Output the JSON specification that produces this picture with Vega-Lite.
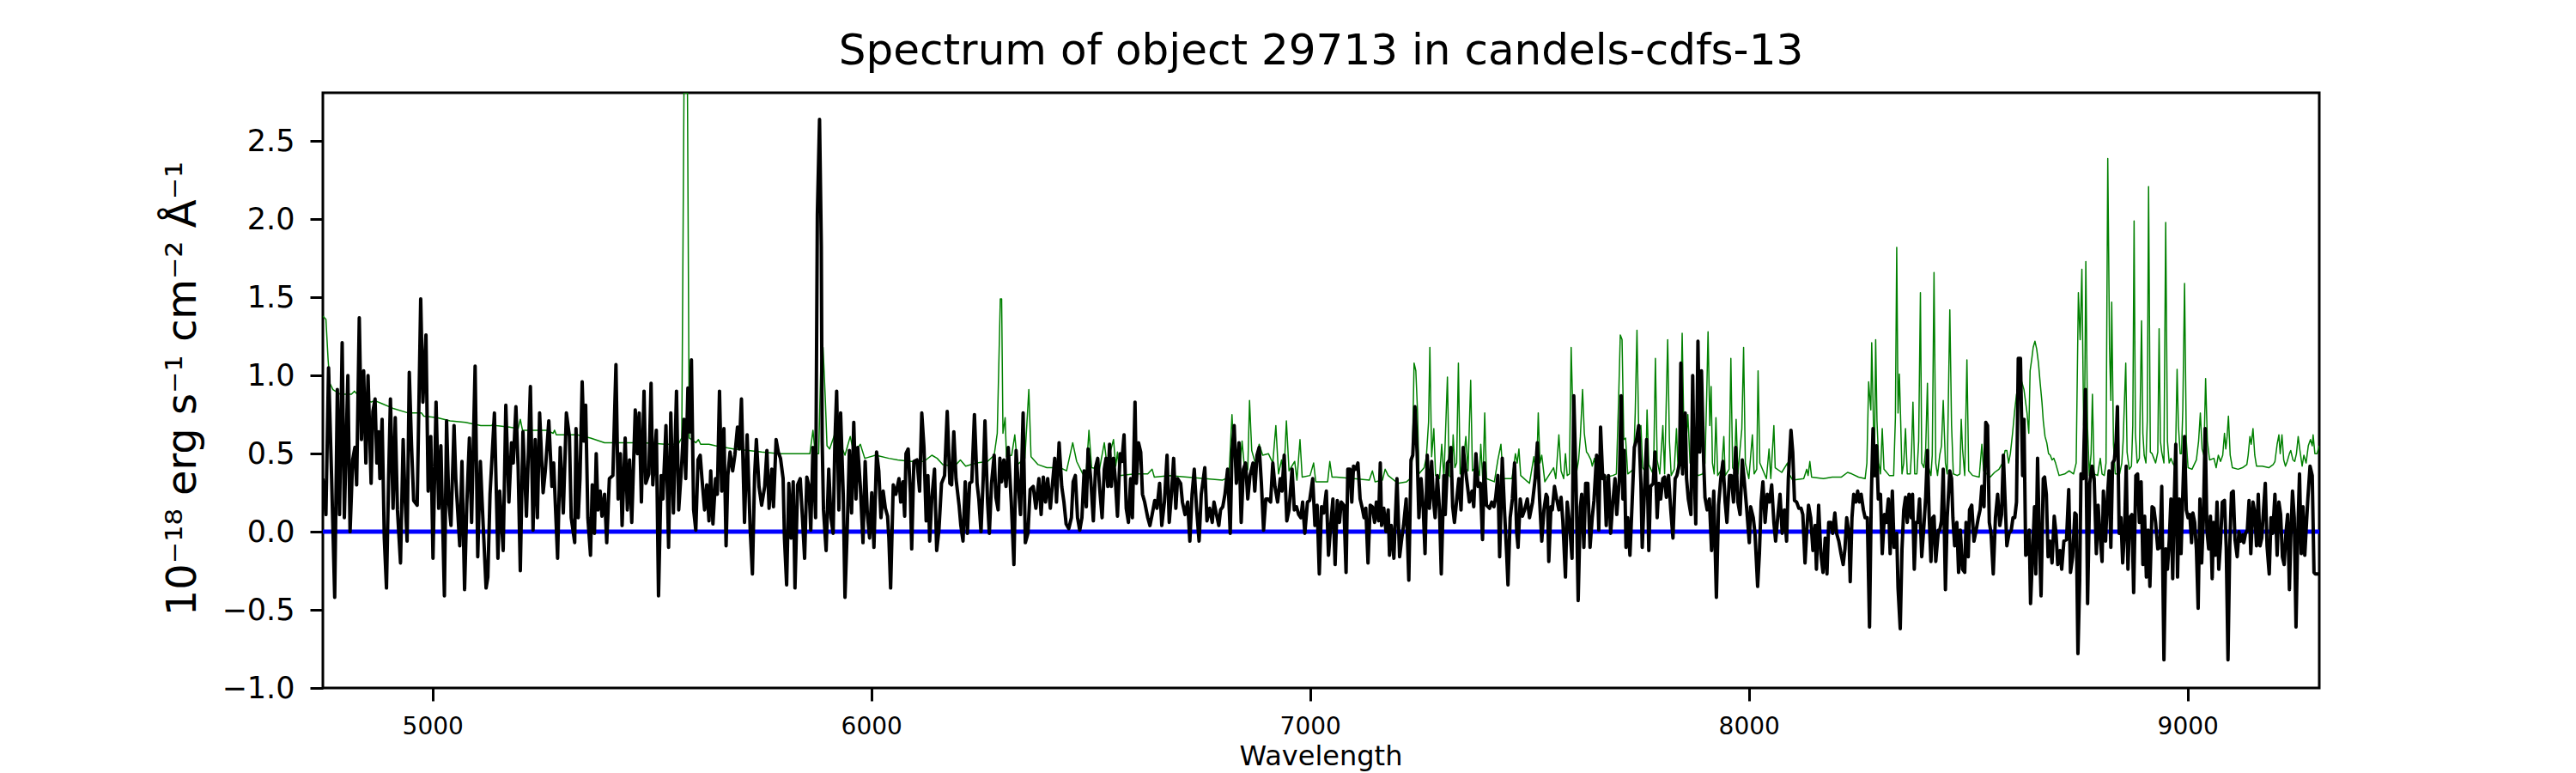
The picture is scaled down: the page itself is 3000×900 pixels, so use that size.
{
"$schema":"https://vega.github.io/schema/vega-lite/v6.json",
"width":2325,"height":693,
"autosize":{"type":"none"},
"padding":{"left":376,"top":108,"right":299,"bottom":99},
"background":"white",
"title":{"text":"Spectrum of object 29713 in candels-cdfs-13","frame":"group","anchor":"middle","font":"DejaVu Sans","fontSize":50,"fontWeight":"normal","color":"black","baseline":"alphabetic","offset":30,"dy":47},
"config":{"view":{"stroke":"black","strokeWidth":3},
"axis":{"domain":false,"grid":false,"ticks":true,"tickColor":"black","tickWidth":3,"tickSize":15,"labelFont":"DejaVu Sans","labelColor":"black","titleFont":"DejaVu Sans","titleColor":"black","titleFontWeight":"normal"}},
"encoding":{
"x":{"field":"w","type":"quantitative","scale":{"domain":[4750,9300],"nice":false,"zero":false},
"axis":{"values":[5000,6000,7000,8000,9000],"format":"d","labelFontSize":28,"labelPadding":16,"labelFlush":false,"labelOverlap":false,"title":"Wavelength","titleFontSize":32,"titleBaseline":"alphabetic","titleX":1162,"titleY":89,"titleAlign":"center"}},
"y":{"field":"v","type":"quantitative","scale":{"domain":[-1,2.81],"nice":false,"zero":false},
"axis":{"values":[-1,-0.5,0,0.5,1,1.5,2,2.5],"format":".1f","labelFontSize":35,"labelPadding":18,"labelOverlap":false,"title":"10\u207b\u00b9\u2078 erg s\u207b\u00b9 cm\u207b\u00b2 \u00c5\u207b\u00b9","titleFontSize":48,"titleBaseline":"alphabetic","titleX":-149,"titleY":344,"titleAlign":"center","titleAngle":270}}
},
"layer":[
{"data":{"values":[
{"w":4750,"v":1.38},{"w":4757,"v":1.36},{"w":4762,"v":1.10},{"w":4766,"v":0.95},{"w":4773,"v":0.91},{"w":4790,"v":0.88},{"w":4815,"v":0.88},{"w":4822,"v":0.90},{"w":4835,"v":0.86},{"w":4860,"v":0.83},{"w":4868,"v":0.84},{"w":4885,"v":0.82},{"w":4910,"v":0.79},{"w":4945,"v":0.76},{"w":4975,"v":0.76},{"w":4980,"v":0.74},{"w":5010,"v":0.73},{"w":5040,"v":0.71},{"w":5075,"v":0.70},{"w":5110,"v":0.68},{"w":5135,"v":0.68},{"w":5140,"v":0.70},{"w":5145,"v":0.68},{"w":5175,"v":0.67},{"w":5195,"v":0.66},{"w":5200,"v":0.72},{"w":5205,"v":0.65},{"w":5230,"v":0.65},{"w":5260,"v":0.65},{"w":5275,"v":0.63},{"w":5278,"v":0.65},{"w":5282,"v":0.62},{"w":5330,"v":0.62},
{"w":5360,"v":0.60},{"w":5392,"v":0.57},{"w":5420,"v":0.57},{"w":5480,"v":0.57},{"w":5530,"v":0.56},{"w":5560,"v":0.56},{"w":5568,"v":0.60},{"w":5573,"v":2.81},{"w":5581,"v":2.81},{"w":5585,"v":0.60},{"w":5600,"v":0.57},{"w":5606,"v":0.59},{"w":5611,"v":0.56},{"w":5630,"v":0.56},{"w":5645,"v":0.55},{"w":5686,"v":0.53},{"w":5720,"v":0.52},{"w":5750,"v":0.51},{"w":5790,"v":0.50},{"w":5840,"v":0.50},{"w":5860,"v":0.50},{"w":5867,"v":0.65},{"w":5872,"v":0.50},{"w":5880,"v":0.50},{"w":5885,"v":1.08},{"w":5890,"v":1.18},{"w":5895,"v":0.86},{"w":5899,"v":0.55},
{"w":5905,"v":0.53},{"w":5916,"v":0.62},{"w":5922,"v":0.51},{"w":5930,"v":0.56},{"w":5940,"v":0.49},{"w":5952,"v":0.61},{"w":5960,"v":0.50},{"w":5975,"v":0.56},{"w":5985,"v":0.47},{"w":6010,"v":0.49},{"w":6040,"v":0.47},{"w":6060,"v":0.46},{"w":6090,"v":0.45},{"w":6120,"v":0.45},{"w":6138,"v":0.49},{"w":6150,"v":0.47},{"w":6163,"v":0.43},{"w":6190,"v":0.42},{"w":6203,"v":0.46},{"w":6215,"v":0.42},{"w":6240,"v":0.44},{"w":6265,"v":0.45},{"w":6280,"v":0.49},{"w":6287,"v":0.63},{"w":6294,"v":1.49},{"w":6297,"v":1.49},{"w":6300,"v":0.63},{"w":6305,"v":0.73},{"w":6308,"v":0.48},{"w":6320,"v":0.49},{"w":6327,"v":0.62},{"w":6333,"v":0.43},{"w":6350,"v":0.47},{"w":6359,"v":0.91},{"w":6364,"v":0.48},{"w":6380,"v":0.43},{"w":6400,"v":0.41},{"w":6430,"v":0.41},{"w":6445,"v":0.39},{"w":6459,"v":0.57},{"w":6468,"v":0.45},
{"w":6482,"v":0.37},{"w":6490,"v":0.39},{"w":6496,"v":0.65},{"w":6502,"v":0.41},{"w":6520,"v":0.40},{"w":6531,"v":0.57},{"w":6537,"v":0.43},{"w":6552,"v":0.59},{"w":6557,"v":0.42},{"w":6561,"v":0.51},{"w":6566,"v":0.36},{"w":6600,"v":0.37},{"w":6630,"v":0.37},{"w":6640,"v":0.40},{"w":6645,"v":0.35},{"w":6680,"v":0.36},{"w":6720,"v":0.35},{"w":6760,"v":0.34},{"w":6800,"v":0.33},{"w":6815,"v":0.35},{"w":6822,"v":0.75},{"w":6826,"v":0.51},{"w":6830,"v":0.40},{"w":6838,"v":0.34},{"w":6845,"v":0.58},{"w":6852,"v":0.36},{"w":6858,"v":0.40},{"w":6862,"v":0.84},{"w":6867,"v":0.52},{"w":6875,"v":0.44},{"w":6884,"v":0.56},{"w":6892,"v":0.49},{"w":6905,"v":0.50},{"w":6915,"v":0.44},{"w":6922,"v":0.68},{"w":6928,"v":0.37},{"w":6935,"v":0.46},{"w":6940,"v":0.34},{"w":6946,"v":0.71},{"w":6952,"v":0.39},{"w":6965,"v":0.45},{"w":6970,"v":0.33},{"w":6977,"v":0.59},{"w":6982,"v":0.35},{"w":7000,"v":0.36},{"w":7008,"v":0.44},{"w":7013,"v":0.32},{"w":7040,"v":0.32},{"w":7045,"v":0.45},{"w":7050,"v":0.35},
{"w":7060,"v":0.35},{"w":7100,"v":0.34},{"w":7135,"v":0.33},{"w":7142,"v":0.39},{"w":7148,"v":0.32},{"w":7165,"v":0.33},{"w":7171,"v":0.40},{"w":7178,"v":0.36},{"w":7200,"v":0.31},{"w":7220,"v":0.32},{"w":7228,"v":0.34},{"w":7233,"v":0.47},{"w":7237,"v":1.08},{"w":7241,"v":1.03},{"w":7245,"v":0.76},{"w":7248,"v":0.37},{"w":7260,"v":0.41},{"w":7265,"v":0.48},{"w":7270,"v":0.70},{"w":7273,"v":1.18},{"w":7277,"v":0.48},{"w":7282,"v":0.66},{"w":7286,"v":0.36},{"w":7295,"v":0.34},{"w":7300,"v":0.56},{"w":7305,"v":0.34},{"w":7313,"v":0.99},{"w":7317,"v":0.36},{"w":7323,"v":0.34},{"w":7326,"v":0.62},{"w":7330,"v":0.41},{"w":7334,"v":0.44},{"w":7338,"v":1.08},{"w":7342,"v":0.37},{"w":7350,"v":0.46},{"w":7355,"v":0.61},{"w":7360,"v":0.39},{"w":7366,"v":0.97},{"w":7370,"v":0.39},{"w":7380,"v":0.42},{"w":7386,"v":0.36},{"w":7389,"v":0.56},{"w":7394,"v":0.31},{"w":7398,"v":0.76},{"w":7402,"v":0.34},{"w":7420,"v":0.32},{"w":7428,"v":0.46},{"w":7435,"v":0.56},{"w":7440,"v":0.34},{"w":7460,"v":0.34},{"w":7468,"v":0.50},{"w":7472,"v":0.44},{"w":7476,"v":0.53},{"w":7480,"v":0.36},{"w":7500,"v":0.31},{"w":7510,"v":0.48},{"w":7516,"v":0.34},{"w":7520,"v":0.76},{"w":7524,"v":0.44},{"w":7528,"v":0.49},{"w":7535,"v":0.32},{"w":7555,"v":0.41},{"w":7560,"v":0.34},{"w":7567,"v":0.62},{"w":7572,"v":0.39},{"w":7578,"v":0.34},{"w":7582,"v":0.50},{"w":7586,"v":0.36},{"w":7591,"v":0.37},{"w":7595,"v":1.18},{"w":7600,"v":0.63},{"w":7605,"v":0.34},{"w":7612,"v":0.46},{"w":7616,"v":0.61},{"w":7621,"v":0.91},{"w":7625,"v":0.63},{"w":7630,"v":0.51},
{"w":7633,"v":0.50},{"w":7640,"v":0.46},{"w":7643,"v":0.42},{"w":7648,"v":0.47},{"w":7653,"v":0.34},{"w":7675,"v":0.35},{"w":7690,"v":0.36},{"w":7698,"v":0.37},{"w":7703,"v":0.83},{"w":7707,"v":1.26},{"w":7711,"v":1.23},{"w":7715,"v":0.59},{"w":7719,"v":0.60},{"w":7724,"v":0.37},{"w":7737,"v":0.40},{"w":7741,"v":0.76},{"w":7745,"v":1.29},{"w":7749,"v":0.64},{"w":7754,"v":0.68},{"w":7758,"v":0.41},{"w":7765,"v":0.38},{"w":7768,"v":0.78},{"w":7772,"v":0.43},{"w":7780,"v":0.38},{"w":7783,"v":0.42},{"w":7787,"v":1.11},{"w":7791,"v":0.46},{"w":7797,"v":0.37},{"w":7804,"v":0.68},{"w":7808,"v":0.37},{"w":7815,"v":1.23},{"w":7819,"v":0.58},{"w":7823,"v":0.36},{"w":7830,"v":0.40},{"w":7835,"v":0.66},{"w":7839,"v":0.37},{"w":7843,"v":0.43},{"w":7848,"v":1.27},{"w":7852,"v":0.64},{"w":7856,"v":0.53},{"w":7861,"v":0.75},{"w":7866,"v":0.44},{"w":7875,"v":0.38},{"w":7885,"v":0.36},{"w":7895,"v":0.37},{"w":7900,"v":0.44},{"w":7904,"v":0.88},{"w":7907,"v":1.28},{"w":7911,"v":0.68},{"w":7914,"v":0.93},{"w":7917,"v":0.44},{"w":7921,"v":0.37},{"w":7925,"v":0.73},{"w":7929,"v":0.36},{"w":7938,"v":0.40},{"w":7943,"v":0.61},{"w":7946,"v":0.36},{"w":7955,"v":0.40},{"w":7959,"v":1.11},{"w":7963,"v":0.41},{"w":7967,"v":0.39},{"w":7971,"v":0.72},{"w":7975,"v":0.37},{"w":7984,"v":0.66},{"w":7988,"v":1.18},{"w":7992,"v":0.44},{"w":8000,"v":0.34},{"w":8008,"v":0.62},{"w":8012,"v":0.37},{"w":8018,"v":0.40},{"w":8021,"v":1.03},{"w":8025,"v":0.44},{"w":8040,"v":0.34},{"w":8046,"v":0.53},{"w":8050,"v":0.34},{"w":8057,"v":0.68},{"w":8060,"v":0.41},{"w":8075,"v":0.38},{"w":8088,"v":0.44},{"w":8092,"v":0.37},{"w":8100,"v":0.33},{"w":8125,"v":0.34},{"w":8132,"v":0.40},{"w":8135,"v":0.36},{"w":8139,"v":0.45},{"w":8143,"v":0.35},{"w":8170,"v":0.34},{"w":8190,"v":0.35},
{"w":8211,"v":0.35},{"w":8225,"v":0.38},{"w":8235,"v":0.37},{"w":8250,"v":0.35},{"w":8265,"v":0.34},{"w":8269,"v":0.44},{"w":8273,"v":0.96},{"w":8275,"v":0.88},{"w":8278,"v":0.78},{"w":8280,"v":1.21},{"w":8283,"v":0.83},{"w":8286,"v":0.36},{"w":8289,"v":1.23},{"w":8292,"v":0.71},{"w":8296,"v":0.44},{"w":8300,"v":0.37},{"w":8304,"v":0.66},{"w":8308,"v":0.40},{"w":8320,"v":0.36},{"w":8330,"v":0.36},{"w":8334,"v":0.73},{"w":8337,"v":1.82},{"w":8340,"v":0.76},{"w":8343,"v":1.01},{"w":8346,"v":0.71},{"w":8349,"v":0.37},{"w":8353,"v":0.44},{"w":8357,"v":0.66},{"w":8361,"v":0.37},{"w":8368,"v":0.37},{"w":8371,"v":0.53},{"w":8374,"v":0.83},{"w":8378,"v":0.37},{"w":8383,"v":0.37},{"w":8387,"v":0.58},{"w":8391,"v":1.53},{"w":8394,"v":0.44},{"w":8399,"v":0.41},{"w":8403,"v":0.53},{"w":8407,"v":0.95},{"w":8410,"v":0.41},{"w":8415,"v":0.36},{"w":8418,"v":0.49},{"w":8422,"v":1.66},{"w":8426,"v":0.44},{"w":8430,"v":0.36},{"w":8435,"v":0.49},{"w":8439,"v":0.55},{"w":8443,"v":0.84},{"w":8448,"v":0.44},{"w":8452,"v":0.37},{"w":8458,"v":1.42},{"w":8462,"v":0.68},{"w":8466,"v":0.37},{"w":8475,"v":0.36},{"w":8481,"v":0.37},{"w":8484,"v":0.72},{"w":8487,"v":0.53},{"w":8492,"v":0.36},{"w":8497,"v":1.10},{"w":8501,"v":0.39},{"w":8510,"v":0.36},{"w":8525,"v":0.35},{"w":8531,"v":0.56},{"w":8535,"v":0.39},{"w":8550,"v":0.35},{"w":8560,"v":0.38},{"w":8570,"v":0.40},{"w":8578,"v":0.44},{"w":8584,"v":0.52},{"w":8588,"v":0.52},{"w":8592,"v":0.44},{"w":8596,"v":0.50},{"w":8601,"v":0.63},{"w":8606,"v":0.78},{"w":8610,"v":0.88},{"w":8614,"v":0.91},{"w":8618,"v":0.84},{"w":8622,"v":0.96},{"w":8627,"v":0.91},{"w":8634,"v":0.76},{"w":8638,"v":0.63},{"w":8641,"v":1.03},{"w":8645,"v":1.11},{"w":8648,"v":1.18},{"w":8652,"v":1.22},{"w":8656,"v":1.17},{"w":8660,"v":1.08},{"w":8664,"v":0.95},{"w":8668,"v":0.83},{"w":8671,"v":0.71},{"w":8675,"v":0.61},{"w":8679,"v":0.57},{"w":8683,"v":0.50},{"w":8687,"v":0.49},{"w":8691,"v":0.46},{"w":8695,"v":0.47},{"w":8699,"v":0.44},{"w":8703,"v":0.40},{"w":8707,"v":0.36},{"w":8720,"v":0.37},{"w":8730,"v":0.39},{"w":8740,"v":0.37},{"w":8746,"v":0.44},{"w":8751,"v":1.53},{"w":8755,"v":1.23},{"w":8759,"v":1.68},{"w":8763,"v":0.68},{"w":8765,"v":0.71},{"w":8768,"v":1.73},{"w":8772,"v":0.66},{"w":8776,"v":0.36},{"w":8780,"v":0.50},{"w":8783,"v":0.88},
{"w":8787,"v":0.37},{"w":8795,"v":0.36},{"w":8798,"v":0.42},{"w":8801,"v":0.47},{"w":8805,"v":0.37},{"w":8810,"v":0.36},{"w":8814,"v":0.44},{"w":8818,"v":2.39},{"w":8822,"v":1.18},{"w":8825,"v":0.84},{"w":8827,"v":1.47},{"w":8831,"v":0.56},{"w":8835,"v":0.37},{"w":8845,"v":0.37},{"w":8850,"v":0.44},{"w":8853,"v":0.58},{"w":8859,"v":1.08},{"w":8862,"v":0.51},{"w":8867,"v":0.40},{"w":8872,"v":0.42},{"w":8875,"v":0.68},{"w":8878,"v":1.99},{"w":8881,"v":0.63},{"w":8885,"v":0.44},{"w":8890,"v":0.47},{"w":8895,"v":1.35},{"w":8898,"v":0.63},{"w":8901,"v":0.49},{"w":8905,"v":0.44},{"w":8908,"v":0.71},{"w":8911,"v":2.21},{"w":8915,"v":0.51},{"w":8919,"v":0.50},{"w":8923,"v":0.47},{"w":8927,"v":0.44},{"w":8932,"v":0.51},{"w":8935,"v":1.30},{"w":8938,"v":0.58},{"w":8941,"v":0.51},{"w":8946,"v":0.44},{"w":8950,"v":1.98},{"w":8954,"v":0.58},{"w":8958,"v":0.44},{"w":8962,"v":0.47},{"w":8966,"v":0.44},{"w":8970,"v":0.42},{"w":8973,"v":0.58},{"w":8976,"v":1.04},{"w":8979,"v":0.68},{"w":8983,"v":0.50},{"w":8986,"v":0.50},{"w":8989,"v":0.78},{"w":8993,"v":1.59},{"w":8997,"v":0.58},{"w":9001,"v":0.41},{"w":9010,"v":0.40},{"w":9015,"v":0.43},{"w":9020,"v":0.46},{"w":9025,"v":0.58},{"w":9029,"v":0.76},{"w":9033,"v":0.53},{"w":9037,"v":0.49},{"w":9041,"v":0.98},{"w":9045,"v":0.58},{"w":9050,"v":0.46},{"w":9060,"v":0.47},{"w":9065,"v":0.41},{"w":9070,"v":0.49},{"w":9075,"v":0.45},{"w":9080,"v":0.49},{"w":9084,"v":0.63},{"w":9087,"v":0.53},{"w":9090,"v":0.61},{"w":9093,"v":0.74},{"w":9097,"v":0.49},{"w":9102,"v":0.41},{"w":9115,"v":0.40},{"w":9125,"v":0.41},{"w":9135,"v":0.43},{"w":9138,"v":0.49},{"w":9142,"v":0.61},{"w":9145,"v":0.56},{"w":9149,"v":0.66},{"w":9153,"v":0.49},{"w":9157,"v":0.42},{"w":9170,"v":0.42},{"w":9185,"v":0.41},{"w":9195,"v":0.43},{"w":9199,"v":0.45},{"w":9204,"v":0.56},{"w":9208,"v":0.62},{"w":9211,"v":0.50},{"w":9215,"v":0.62},{"w":9219,"v":0.46},{"w":9223,"v":0.42},{"w":9227,"v":0.45},{"w":9232,"v":0.50},{"w":9235,"v":0.52},{"w":9240,"v":0.46},{"w":9244,"v":0.45},{"w":9248,"v":0.50},{"w":9252,"v":0.61},{"w":9256,"v":0.52},{"w":9261,"v":0.42},{"w":9265,"v":0.49},{"w":9270,"v":0.44},{"w":9275,"v":0.55},{"w":9280,"v":0.59},{"w":9284,"v":0.55},{"w":9286,"v":0.62},{"w":9290,"v":0.50},{"w":9295,"v":0.50},{"w":9300,"v":0.55}
]},"mark":{"type":"line","color":"#008000","strokeWidth":1.5,"clip":true,"strokeJoin":"round"}},
{"data":{"values":[{"w":4750,"v":0},{"w":9300,"v":0}]},"mark":{"type":"line","color":"#0000ff","strokeWidth":5,"clip":true}},
{"data":{"values":[
{"w":4750,"v":0.34},{"w":4757,"v":0.11},{"w":4763,"v":1.05},{"w":4770,"v":0.34},{"w":4777,"v":-0.42},{"w":4783,"v":0.91},{"w":4788,"v":0.11},{"w":4794,"v":1.21},{"w":4799,"v":0.09},{"w":4807,"v":1.00},{"w":4812,"v":0.00},{"w":4818,"v":0.46},{"w":4823,"v":0.54},{"w":4827,"v":0.30},{"w":4833,"v":1.37},{"w":4838,"v":0.59},{"w":4843,"v":1.03},{"w":4848,"v":0.44},{"w":4853,"v":1.00},{"w":4860,"v":0.31},{"w":4864,"v":0.77},{"w":4869,"v":0.85},{"w":4873,"v":0.44},{"w":4877,"v":0.64},{"w":4880,"v":0.34},{"w":4885,"v":0.72},{"w":4890,"v":-0.04},{"w":4895,"v":-0.36},{"w":4900,"v":0.36},{"w":4904,"v":0.85},{"w":4910,"v":0.15},{"w":4915,"v":0.73},{"w":4920,"v":0.14},{"w":4927,"v":-0.20},{"w":4933,"v":0.59},{"w":4937,"v":0.24},{"w":4942,"v":-0.06},{"w":4947,"v":1.02},{"w":4952,"v":0.56},{"w":4957,"v":0.20},{"w":4965,"v":0.17},{"w":4973,"v":1.49},{"w":4978,"v":0.83},{"w":4985,"v":1.26},{"w":4990,"v":0.26},{"w":4996,"v":0.61},{"w":5001,"v":-0.17},{"w":5008,"v":0.83},{"w":5014,"v":0.15},{"w":5019,"v":0.55},{"w":5027,"v":-0.41},{"w":5032,"v":0.71},{"w":5037,"v":0.19},{"w":5042,"v":0.04},{"w":5049,"v":0.68},{"w":5053,"v":0.34},{"w":5062,"v":-0.09},{"w":5067,"v":0.45},{"w":5073,"v":-0.37},{"w":5078,"v":0.17},{"w":5084,"v":0.60},{"w":5089,"v":0.06},{"w":5097,"v":1.06},{"w":5103,"v":-0.16},{"w":5109,"v":0.45},{"w":5113,"v":0.19},{"w":5122,"v":-0.36},{"w":5126,"v":-0.29},{"w":5131,"v":0.24},{"w":5141,"v":0.76},{"w":5149,"v":-0.17},{"w":5153,"v":0.26},{"w":5161,"v":-0.12},{"w":5167,"v":0.81},{"w":5174,"v":0.19},{"w":5180,"v":0.57},{"w":5184,"v":0.44},{"w":5190,"v":0.80},{"w":5195,"v":0.42},{"w":5200,"v":-0.25},{"w":5206,"v":0.64},{"w":5214,"v":0.10},{"w":5223,"v":0.93},{"w":5229,"v":0.01},{"w":5234,"v":0.59},{"w":5239,"v":0.09},{"w":5244,"v":0.76},{"w":5252,"v":0.25},{"w":5257,"v":0.39},{"w":5265,"v":0.71},{"w":5272,"v":0.29},{"w":5276,"v":0.44},{"w":5285,"v":-0.17},{"w":5291,"v":0.54},{"w":5298,"v":0.12},{"w":5305,"v":0.76},{"w":5312,"v":0.61},{"w":5316,"v":0.09},{"w":5324,"v":-0.07},
{"w":5327,"v":0.66},{"w":5332,"v":0.09},{"w":5336,"v":0.34},{"w":5341,"v":0.96},{"w":5345,"v":0.58},{"w":5349,"v":0.81},{"w":5354,"v":0.09},{"w":5360,"v":-0.15},{"w":5364,"v":0.30},{"w":5369,"v":-0.01},{"w":5373,"v":0.50},{"w":5377,"v":0.14},{"w":5382,"v":0.26},{"w":5386,"v":0.10},{"w":5392,"v":0.24},{"w":5397,"v":-0.07},{"w":5403,"v":0.34},{"w":5411,"v":0.36},{"w":5418,"v":1.07},{"w":5423,"v":0.21},{"w":5428,"v":0.50},{"w":5432,"v":0.04},{"w":5439,"v":0.60},{"w":5444,"v":0.14},{"w":5449,"v":0.46},{"w":5454,"v":0.06},{"w":5462,"v":0.78},{"w":5467,"v":0.50},{"w":5471,"v":0.76},{"w":5476,"v":0.19},{"w":5482,"v":0.90},{"w":5486,"v":0.31},{"w":5493,"v":0.37},{"w":5498,"v":0.95},{"w":5502,"v":0.30},{"w":5510,"v":0.65},{"w":5515,"v":-0.41},{"w":5521,"v":0.36},{"w":5525,"v":0.21},{"w":5532,"v":0.68},{"w":5538,"v":-0.10},{"w":5543,"v":0.76},{"w":5549,"v":0.12},{"w":5556,"v":0.90},{"w":5561,"v":0.14},{"w":5568,"v":0.44},{"w":5573,"v":0.72},{"w":5577,"v":0.34},{"w":5582,"v":0.92},{"w":5586,"v":0.64},{"w":5590,"v":1.10},{"w":5595,"v":0.14},{"w":5600,"v":0.01},{"w":5605,"v":0.46},{"w":5610,"v":0.49},{"w":5614,"v":0.34},{"w":5620,"v":0.14},{"w":5625,"v":0.30},{"w":5630,"v":0.07},{"w":5634,"v":0.39},{"w":5639,"v":0.05},{"w":5645,"v":0.34},{"w":5649,"v":0.24},{"w":5654,"v":0.90},{"w":5659,"v":0.26},{"w":5664,"v":0.66},{"w":5669,"v":-0.09},{"w":5673,"v":0.36},{"w":5678,"v":0.51},{"w":5684,"v":0.39},{"w":5689,"v":0.49},{"w":5695,"v":0.67},{"w":5699,"v":0.53},{"w":5704,"v":0.85},{"w":5711,"v":0.06},{"w":5717,"v":0.62},{"w":5724,"v":0.01},{"w":5729,"v":-0.27},{"w":5734,"v":0.36},{"w":5738,"v":0.59},{"w":5744,"v":0.29},{"w":5750,"v":0.17},{"w":5757,"v":0.29},{"w":5762,"v":0.52},{"w":5767,"v":0.15},{"w":5773,"v":0.40},{"w":5777,"v":0.16},{"w":5783,"v":0.59},{"w":5788,"v":0.51},{"w":5793,"v":0.47},{"w":5799,"v":0.34},{"w":5802,"v":-0.04},{"w":5807,"v":-0.34},{"w":5812,"v":0.31},{"w":5817,"v":-0.04},{"w":5822,"v":0.32},{"w":5826,"v":-0.36},{"w":5832,"v":0.30},{"w":5838,"v":0.34},{"w":5843,"v":0.09},{"w":5848,"v":-0.17},{"w":5853,"v":0.35},{"w":5858,"v":0.29},{"w":5862,"v":0.01},{"w":5867,"v":0.54},{"w":5873,"v":0.09},{"w":5877,"v":2.03},{"w":5882,"v":2.64},{"w":5886,"v":1.83},{"w":5888,"v":0.58},{"w":5891,"v":0.14},{"w":5897,"v":-0.12},
{"w":5903,"v":0.40},{"w":5908,"v":0.09},{"w":5913,"v":-0.01},{"w":5917,"v":0.58},{"w":5921,"v":0.90},{"w":5926,"v":0.14},{"w":5930,"v":0.76},{"w":5936,"v":0.24},{"w":5940,"v":-0.42},{"w":5945,"v":0.01},{"w":5950,"v":0.52},{"w":5955,"v":0.12},{"w":5960,"v":0.70},{"w":5965,"v":0.21},{"w":5969,"v":0.54},{"w":5975,"v":0.29},{"w":5981,"v":-0.07},{"w":5986,"v":0.45},{"w":5991,"v":0.11},{"w":5996,"v":-0.04},{"w":6001,"v":0.25},{"w":6006,"v":-0.10},{"w":6012,"v":0.51},{"w":6017,"v":0.39},{"w":6022,"v":0.09},{"w":6027,"v":0.26},{"w":6032,"v":0.15},{"w":6037,"v":0.10},{"w":6040,"v":-0.04},{"w":6044,"v":-0.36},{"w":6050,"v":0.30},{"w":6056,"v":0.24},{"w":6063,"v":0.34},{"w":6067,"v":0.19},{"w":6072,"v":0.32},{"w":6076,"v":0.10},{"w":6079,"v":0.50},{"w":6084,"v":0.53},{"w":6089,"v":0.25},{"w":6092,"v":-0.11},{"w":6097,"v":0.45},{"w":6104,"v":0.46},{"w":6110,"v":0.26},{"w":6115,"v":0.76},{"w":6120,"v":0.54},{"w":6125,"v":0.07},{"w":6129,"v":0.36},{"w":6133,"v":-0.06},{"w":6138,"v":0.22},{"w":6144,"v":0.40},{"w":6149,"v":-0.12},{"w":6154,"v":0.01},{"w":6160,"v":0.31},{"w":6167,"v":0.36},{"w":6173,"v":0.77},{"w":6179,"v":0.31},{"w":6183,"v":0.30},{"w":6188,"v":0.64},{"w":6193,"v":0.34},{"w":6200,"v":0.17},{"w":6204,"v":0.04},{"w":6209,"v":-0.06},{"w":6214,"v":0.32},{"w":6219,"v":-0.01},{"w":6224,"v":0.31},{"w":6229,"v":0.32},{"w":6235,"v":0.75},{"w":6241,"v":0.31},{"w":6245,"v":0.21},{"w":6250,"v":0.00},{"w":6255,"v":0.34},{"w":6259,"v":0.71},{"w":6265,"v":0.19},{"w":6269,"v":-0.01},{"w":6274,"v":0.31},{"w":6280,"v":0.49},{"w":6284,"v":0.22},{"w":6289,"v":0.14},{"w":6293,"v":0.47},{"w":6297,"v":0.32},{"w":6302,"v":0.46},{"w":6307,"v":0.29},{"w":6312,"v":0.54},{"w":6319,"v":0.19},{"w":6325,"v":-0.21},{"w":6330,"v":0.52},{"w":6334,"v":0.34},{"w":6340,"v":0.11},{"w":6346,"v":0.76},{"w":6351,"v":-0.07},{"w":6357,"v":-0.01},{"w":6362,"v":0.27},{"w":6369,"v":0.29},{"w":6375,"v":0.15},{"w":6382,"v":0.34},{"w":6387,"v":0.11},{"w":6392,"v":0.35},{"w":6397,"v":0.19},{"w":6402,"v":0.34},{"w":6408,"v":0.15},{"w":6413,"v":0.31},{"w":6418,"v":0.47},{"w":6422,"v":0.19},{"w":6428,"v":0.57},{"w":6434,"v":0.29},{"w":6439,"v":0.19},{"w":6444,"v":0.05},{"w":6450,"v":0.02},{"w":6456,"v":0.09},{"w":6460,"v":0.32},{"w":6465,"v":0.36},{"w":6470,"v":0.09},{"w":6475,"v":0.01},
{"w":6480,"v":0.09},{"w":6485,"v":0.39},{"w":6490,"v":0.16},{"w":6494,"v":0.53},{"w":6500,"v":0.34},{"w":6506,"v":0.07},{"w":6511,"v":0.41},{"w":6516,"v":0.47},{"w":6520,"v":0.29},{"w":6526,"v":0.09},{"w":6531,"v":0.40},{"w":6535,"v":0.47},{"w":6539,"v":0.29},{"w":6543,"v":0.56},{"w":6547,"v":0.29},{"w":6552,"v":0.47},{"w":6556,"v":0.34},{"w":6561,"v":0.10},{"w":6567,"v":0.50},{"w":6571,"v":0.45},{"w":6576,"v":0.62},{"w":6581,"v":0.15},{"w":6586,"v":0.06},{"w":6591,"v":0.34},{"w":6595,"v":0.09},{"w":6601,"v":0.83},{"w":6604,"v":0.31},{"w":6609,"v":0.57},{"w":6614,"v":0.51},{"w":6618,"v":0.24},{"w":6623,"v":0.19},{"w":6630,"v":0.09},{"w":6635,"v":0.04},{"w":6640,"v":0.11},{"w":6646,"v":0.20},{"w":6651,"v":0.15},{"w":6657,"v":0.31},{"w":6662,"v":0.04},{"w":6668,"v":0.19},{"w":6674,"v":0.49},{"w":6679,"v":0.06},{"w":6684,"v":0.24},{"w":6689,"v":0.47},{"w":6694,"v":0.15},{"w":6698,"v":0.34},{"w":6705,"v":0.31},{"w":6709,"v":0.19},{"w":6715,"v":0.11},{"w":6721,"v":0.19},{"w":6726,"v":-0.06},{"w":6731,"v":0.24},{"w":6736,"v":0.40},{"w":6741,"v":0.16},{"w":6747,"v":-0.06},{"w":6752,"v":0.24},{"w":6760,"v":0.41},{"w":6765,"v":0.07},{"w":6771,"v":0.15},{"w":6777,"v":0.06},{"w":6781,"v":0.19},{"w":6786,"v":0.12},{"w":6792,"v":0.04},{"w":6796,"v":0.14},{"w":6801,"v":0.16},{"w":6806,"v":0.24},{"w":6812,"v":0.40},{"w":6818,"v":-0.01},{"w":6822,"v":0.51},{"w":6827,"v":0.68},{"w":6832,"v":0.31},{"w":6838,"v":0.57},{"w":6843,"v":0.06},{"w":6848,"v":0.40},{"w":6853,"v":0.44},{"w":6858,"v":0.21},{"w":6863,"v":0.36},{"w":6870,"v":0.44},{"w":6874,"v":0.26},{"w":6879,"v":0.49},{"w":6884,"v":0.54},{"w":6889,"v":0.31},{"w":6894,"v":0.01},{"w":6899,"v":0.21},{"w":6904,"v":0.21},{"w":6910,"v":0.19},{"w":6915,"v":0.44},{"w":6920,"v":0.29},{"w":6926,"v":0.19},{"w":6932,"v":0.34},{"w":6936,"v":0.26},{"w":6941,"v":0.49},{"w":6947,"v":0.07},{"w":6952,"v":0.14},{"w":6959,"v":0.40},{"w":6964,"v":0.14},{"w":6969,"v":0.16},{"w":6974,"v":0.11},{"w":6979,"v":0.09},{"w":6983,"v":0.19},{"w":6988,"v":-0.01},{"w":6994,"v":0.19},{"w":6999,"v":0.20},{"w":7006,"v":0.34},{"w":7011,"v":0.04},{"w":7016,"v":0.17},{"w":7021,"v":-0.27},{"w":7026,"v":0.16},{"w":7031,"v":0.12},{"w":7037,"v":0.26},{"w":7042,"v":-0.15},{"w":7047,"v":0.04},{"w":7052,"v":0.21},
{"w":7057,"v":-0.21},{"w":7062,"v":0.20},{"w":7067,"v":0.06},{"w":7071,"v":0.19},{"w":7077,"v":0.17},{"w":7082,"v":-0.26},{"w":7086,"v":0.40},{"w":7091,"v":0.40},{"w":7095,"v":0.19},{"w":7099,"v":0.42},{"w":7104,"v":0.40},{"w":7109,"v":0.44},{"w":7114,"v":0.21},{"w":7119,"v":0.15},{"w":7123,"v":0.09},{"w":7127,"v":0.15},{"w":7132,"v":-0.20},{"w":7137,"v":0.17},{"w":7142,"v":0.16},{"w":7147,"v":0.06},{"w":7151,"v":0.19},{"w":7156,"v":0.07},{"w":7160,"v":0.44},{"w":7163,"v":0.04},{"w":7168,"v":0.15},{"w":7173,"v":0.00},{"w":7178,"v":0.14},{"w":7181,"v":-0.15},{"w":7185,"v":0.04},{"w":7191,"v":-0.17},{"w":7194,"v":0.06},{"w":7198,"v":0.34},{"w":7204,"v":-0.16},{"w":7209,"v":-0.04},{"w":7213,"v":0.04},{"w":7219,"v":0.21},{"w":7225,"v":-0.31},{"w":7230,"v":0.46},{"w":7234,"v":0.49},{"w":7239,"v":0.80},{"w":7244,"v":0.50},{"w":7248,"v":0.09},{"w":7253,"v":0.34},{"w":7258,"v":0.14},{"w":7262,"v":-0.14},{"w":7267,"v":0.49},{"w":7272,"v":0.15},{"w":7277,"v":0.45},{"w":7281,"v":0.21},{"w":7285,"v":0.09},{"w":7290,"v":0.36},{"w":7295,"v":0.14},{"w":7299,"v":-0.27},{"w":7305,"v":0.36},{"w":7308,"v":0.11},{"w":7313,"v":0.44},{"w":7318,"v":0.46},{"w":7321,"v":0.54},{"w":7325,"v":0.16},{"w":7329,"v":0.06},{"w":7334,"v":0.20},{"w":7339,"v":0.34},{"w":7344,"v":0.14},{"w":7349,"v":0.54},{"w":7354,"v":0.40},{"w":7358,"v":0.31},{"w":7363,"v":0.19},{"w":7369,"v":0.26},{"w":7373,"v":0.16},{"w":7378,"v":0.50},{"w":7383,"v":0.29},{"w":7388,"v":0.31},{"w":7393,"v":-0.05},{"w":7397,"v":0.44},{"w":7402,"v":0.17},{"w":7409,"v":0.15},{"w":7414,"v":0.19},{"w":7419,"v":0.16},{"w":7423,"v":0.22},{"w":7428,"v":0.36},{"w":7432,"v":-0.16},{"w":7438,"v":0.47},{"w":7443,"v":0.14},{"w":7448,"v":-0.14},{"w":7451,"v":-0.34},{"w":7456,"v":0.09},{"w":7461,"v":0.21},{"w":7466,"v":0.44},{"w":7471,"v":-0.01},{"w":7474,"v":-0.10},{"w":7479,"v":0.21},{"w":7484,"v":0.10},{"w":7489,"v":0.14},{"w":7495,"v":0.21},{"w":7500,"v":0.09},{"w":7507,"v":0.19},{"w":7513,"v":0.34},{"w":7518,"v":0.57},{"w":7523,"v":0.21},{"w":7528,"v":-0.06},{"w":7533,"v":0.14},{"w":7538,"v":0.24},{"w":7541,"v":0.22},{"w":7544,"v":-0.19},{"w":7549,"v":0.16},{"w":7552,"v":0.14},{"w":7557,"v":0.29},{"w":7562,"v":0.21},{"w":7567,"v":0.14},{"w":7572,"v":0.22},{"w":7576,"v":0.07},{"w":7582,"v":-0.29},{"w":7586,"v":0.19},{"w":7591,"v":0.06},{"w":7597,"v":-0.17},{"w":7601,"v":0.87},{"w":7606,"v":0.34},{"w":7611,"v":-0.44},{"w":7616,"v":0.16},{"w":7619,"v":0.24},{"w":7624,"v":-0.10},{"w":7628,"v":0.31},
{"w":7633,"v":0.31},{"w":7638,"v":-0.10},{"w":7643,"v":0.09},{"w":7647,"v":0.20},{"w":7653,"v":0.49},{"w":7658,"v":0.01},{"w":7662,"v":0.67},{"w":7667,"v":0.34},{"w":7671,"v":0.36},{"w":7675,"v":0.04},{"w":7680,"v":0.36},{"w":7685,"v":-0.01},{"w":7690,"v":0.19},{"w":7695,"v":0.34},{"w":7699,"v":0.11},{"w":7705,"v":0.34},{"w":7709,"v":0.87},{"w":7713,"v":0.21},{"w":7716,"v":0.52},{"w":7720,"v":-0.10},{"w":7724,"v":0.09},{"w":7729,"v":-0.15},{"w":7734,"v":0.19},{"w":7739,"v":0.54},{"w":7744,"v":0.59},{"w":7749,"v":0.68},{"w":7754,"v":0.31},{"w":7757,"v":-0.10},{"w":7761,"v":0.19},{"w":7767,"v":0.59},{"w":7772,"v":-0.12},{"w":7776,"v":0.29},{"w":7782,"v":0.31},{"w":7786,"v":0.51},{"w":7791,"v":0.09},{"w":7795,"v":0.31},{"w":7799,"v":0.21},{"w":7804,"v":0.34},{"w":7808,"v":0.35},{"w":7812,"v":0.22},{"w":7817,"v":0.36},{"w":7822,"v":0.14},{"w":7827,"v":-0.04},{"w":7832,"v":0.34},{"w":7836,"v":0.36},{"w":7842,"v":0.44},{"w":7845,"v":1.08},{"w":7849,"v":0.37},{"w":7855,"v":0.76},{"w":7858,"v":0.34},{"w":7862,"v":0.21},{"w":7868,"v":0.11},{"w":7872,"v":1.00},{"w":7875,"v":0.44},{"w":7879,"v":0.05},{"w":7884,"v":1.22},{"w":7888,"v":0.51},{"w":7892,"v":1.03},{"w":7897,"v":0.45},{"w":7900,"v":0.22},{"w":7905,"v":0.14},{"w":7910,"v":0.21},{"w":7915,"v":-0.12},{"w":7920,"v":0.26},{"w":7926,"v":-0.42},{"w":7931,"v":0.17},{"w":7936,"v":0.34},{"w":7941,"v":0.45},{"w":7946,"v":0.19},{"w":7950,"v":0.06},{"w":7956,"v":0.36},{"w":7960,"v":0.36},{"w":7965,"v":0.19},{"w":7970,"v":0.54},{"w":7975,"v":0.19},{"w":7980,"v":0.11},{"w":7985,"v":0.46},{"w":7990,"v":0.31},{"w":7995,"v":0.15},{"w":8001,"v":-0.07},{"w":8004,"v":0.16},{"w":8010,"v":0.09},{"w":8014,"v":-0.01},{"w":8020,"v":-0.35},{"w":8024,"v":-0.14},{"w":8028,"v":0.19},{"w":8032,"v":0.32},{"w":8037,"v":0.06},{"w":8042,"v":0.24},{"w":8047,"v":0.19},{"w":8052,"v":0.30},{"w":8057,"v":0.06},{"w":8061,"v":-0.06},{"w":8066,"v":0.10},{"w":8071,"v":0.24},{"w":8076,"v":-0.01},{"w":8081,"v":0.14},{"w":8086,"v":-0.06},{"w":8090,"v":0.34},{"w":8096,"v":0.65},{"w":8100,"v":0.51},{"w":8104,"v":0.20},{"w":8109,"v":0.19},{"w":8114,"v":0.15},{"w":8119,"v":0.15},{"w":8123,"v":0.11},{"w":8128,"v":-0.20},{"w":8132,"v":0.01},{"w":8136,"v":0.17},{"w":8141,"v":0.09},{"w":8146,"v":-0.12},{"w":8151,"v":0.04},{"w":8154,"v":-0.24},{"w":8159,"v":0.17},{"w":8164,"v":-0.14},{"w":8169,"v":-0.26},{"w":8174,"v":-0.04},{"w":8178,"v":-0.27},{"w":8182,"v":0.06},{"w":8187,"v":0.06},{"w":8191,"v":-0.01},{"w":8196,"v":0.12},{"w":8200,"v":-0.01},{"w":8205,"v":-0.06},
{"w":8210,"v":-0.14},{"w":8215,"v":-0.21},{"w":8219,"v":-0.11},{"w":8223,"v":0.09},{"w":8228,"v":-0.01},{"w":8231,"v":-0.32},{"w":8235,"v":0.09},{"w":8239,"v":0.24},{"w":8244,"v":0.19},{"w":8248,"v":0.26},{"w":8252,"v":0.19},{"w":8256,"v":0.24},{"w":8261,"v":0.14},{"w":8265,"v":0.09},{"w":8270,"v":0.09},{"w":8275,"v":-0.61},{"w":8279,"v":0.21},{"w":8283,"v":0.66},{"w":8287,"v":0.36},{"w":8291,"v":0.55},{"w":8295,"v":0.21},{"w":8300,"v":0.24},{"w":8304,"v":-0.14},{"w":8309,"v":0.11},{"w":8313,"v":0.06},{"w":8318,"v":0.21},{"w":8322,"v":-0.14},{"w":8327,"v":0.26},{"w":8331,"v":-0.10},{"w":8337,"v":-0.01},{"w":8340,"v":-0.36},{"w":8345,"v":-0.62},{"w":8349,"v":-0.11},{"w":8353,"v":0.14},{"w":8357,"v":0.22},{"w":8361,"v":0.06},{"w":8365,"v":0.24},{"w":8370,"v":0.09},{"w":8373,"v":0.24},{"w":8377,"v":-0.24},{"w":8381,"v":0.06},{"w":8385,"v":0.06},{"w":8389,"v":0.21},{"w":8394,"v":-0.16},{"w":8399,"v":0.04},{"w":8403,"v":0.22},{"w":8407,"v":0.52},{"w":8411,"v":0.09},{"w":8415,"v":-0.19},{"w":8419,"v":0.09},{"w":8422,"v":0.10},{"w":8426,"v":-0.19},{"w":8432,"v":0.01},{"w":8435,"v":0.01},{"w":8439,"v":0.07},{"w":8443,"v":0.40},{"w":8448,"v":-0.37},{"w":8452,"v":0.09},{"w":8458,"v":0.39},{"w":8462,"v":0.34},{"w":8465,"v":0.09},{"w":8469,"v":-0.09},{"w":8474,"v":0.06},{"w":8478,"v":-0.26},{"w":8482,"v":0.01},{"w":8487,"v":-0.24},{"w":8492,"v":-0.26},{"w":8495,"v":0.06},{"w":8500,"v":-0.16},{"w":8503,"v":0.14},{"w":8508,"v":0.17},{"w":8513,"v":-0.06},{"w":8518,"v":0.01},{"w":8523,"v":0.09},{"w":8527,"v":0.14},{"w":8531,"v":0.29},{"w":8536,"v":0.16},{"w":8540,"v":0.70},{"w":8544,"v":0.68},{"w":8548,"v":0.06},{"w":8552,"v":-0.01},{"w":8557,"v":-0.27},{"w":8562,"v":0.09},{"w":8567,"v":0.24},{"w":8572,"v":0.04},{"w":8576,"v":0.11},{"w":8580,"v":0.49},{"w":8584,"v":0.20},{"w":8588,"v":-0.09},{"w":8593,"v":-0.01},{"w":8598,"v":0.01},{"w":8602,"v":0.09},{"w":8606,"v":0.09},{"w":8610,"v":0.19},{"w":8614,"v":1.11},{"w":8619,"v":1.11},{"w":8624,"v":0.36},{"w":8627,"v":0.72},{"w":8631,"v":-0.15},{"w":8635,"v":-0.14},{"w":8639,"v":0.01},{"w":8642,"v":-0.46},{"w":8647,"v":-0.12},{"w":8651,"v":0.16},{"w":8654,"v":-0.27},{"w":8658,"v":0.47},{"w":8662,"v":-0.04},{"w":8666,"v":-0.41},{"w":8671,"v":0.34},{"w":8674,"v":0.35},{"w":8678,"v":0.24},{"w":8682,"v":-0.16},{"w":8686,"v":-0.06},{"w":8691,"v":-0.20},{"w":8696,"v":0.10},{"w":8700,"v":-0.01},{"w":8704,"v":-0.21},{"w":8709,"v":-0.12},{"w":8713,"v":-0.24},{"w":8718,"v":-0.06},{"w":8724,"v":-0.05},{"w":8729,"v":0.27},{"w":8733,"v":-0.26},{"w":8738,"v":-0.16},{"w":8743,"v":0.12},{"w":8746,"v":0.11},{"w":8750,"v":-0.78},{"w":8754,"v":-0.31},{"w":8757,"v":0.37},{"w":8762,"v":0.34},{"w":8767,"v":0.91},{"w":8772,"v":-0.46},{"w":8777,"v":0.31},{"w":8782,"v":0.42},
{"w":8787,"v":0.34},{"w":8792,"v":-0.14},{"w":8796,"v":0.17},{"w":8800,"v":-0.01},{"w":8805,"v":-0.19},{"w":8808,"v":0.26},{"w":8813,"v":-0.06},{"w":8817,"v":0.21},{"w":8821,"v":0.39},{"w":8825,"v":-0.10},{"w":8829,"v":0.44},{"w":8833,"v":0.46},{"w":8837,"v":0.58},{"w":8840,"v":0.80},{"w":8844,"v":-0.01},{"w":8848,"v":0.09},{"w":8852,"v":-0.20},{"w":8856,"v":-0.01},{"w":8860,"v":0.42},{"w":8864,"v":-0.24},{"w":8868,"v":0.09},{"w":8873,"v":0.11},{"w":8877,"v":-0.39},{"w":8882,"v":0.36},{"w":8886,"v":0.37},{"w":8890,"v":0.06},{"w":8894,"v":0.32},{"w":8898,"v":-0.21},{"w":8902,"v":0.10},{"w":8906,"v":-0.29},{"w":8910,"v":0.01},{"w":8914,"v":-0.35},{"w":8919,"v":0.16},{"w":8923,"v":0.15},{"w":8927,"v":0.06},{"w":8932,"v":-0.11},{"w":8937,"v":-0.10},{"w":8941,"v":0.29},{"w":8946,"v":-0.82},{"w":8950,"v":-0.11},{"w":8954,"v":-0.24},{"w":8958,"v":-0.06},{"w":8962,"v":0.21},{"w":8966,"v":-0.30},{"w":8969,"v":0.14},{"w":8973,"v":0.56},{"w":8977,"v":-0.29},{"w":8981,"v":0.21},{"w":8985,"v":-0.14},{"w":8989,"v":0.24},{"w":8993,"v":0.61},{"w":8997,"v":0.14},{"w":9001,"v":0.09},{"w":9005,"v":0.11},{"w":9009,"v":-0.07},{"w":9012,"v":0.12},{"w":9016,"v":0.06},{"w":9020,"v":-0.11},{"w":9024,"v":-0.49},{"w":9028,"v":0.21},{"w":9032,"v":-0.20},{"w":9036,"v":0.09},{"w":9040,"v":0.66},{"w":9044,"v":0.01},{"w":9048,"v":-0.11},{"w":9052,"v":0.10},{"w":9056,"v":-0.30},{"w":9059,"v":0.06},{"w":9063,"v":-0.15},{"w":9067,"v":0.19},{"w":9071,"v":-0.24},{"w":9075,"v":-0.07},{"w":9079,"v":0.19},{"w":9084,"v":0.20},{"w":9088,"v":-0.10},{"w":9092,"v":-0.82},{"w":9096,"v":-0.09},{"w":9100,"v":0.25},{"w":9104,"v":0.26},{"w":9108,"v":-0.05},{"w":9113,"v":-0.16},{"w":9117,"v":0.00},{"w":9121,"v":-0.06},{"w":9125,"v":-0.02},{"w":9128,"v":-0.07},{"w":9132,"v":-0.01},{"w":9136,"v":0.01},{"w":9140,"v":0.20},{"w":9144,"v":-0.14},{"w":9149,"v":0.19},{"w":9153,"v":0.12},{"w":9157,"v":-0.09},{"w":9161,"v":0.24},{"w":9165,"v":-0.09},{"w":9169,"v":-0.04},{"w":9173,"v":0.14},{"w":9177,"v":0.31},{"w":9181,"v":-0.09},{"w":9186,"v":-0.27},{"w":9190,"v":0.09},{"w":9194,"v":-0.01},{"w":9199,"v":0.24},{"w":9204,"v":-0.15},{"w":9208,"v":0.19},{"w":9212,"v":0.11},{"w":9216,"v":-0.16},{"w":9220,"v":-0.21},{"w":9224,"v":-0.01},{"w":9228,"v":0.11},{"w":9232,"v":-0.37},{"w":9235,"v":-0.04},{"w":9239,"v":0.26},{"w":9243,"v":0.09},{"w":9247,"v":-0.61},{"w":9251,"v":-0.01},{"w":9255,"v":0.37},{"w":9259,"v":-0.14},{"w":9263,"v":0.16},{"w":9267,"v":-0.15},{"w":9271,"v":0.06},{"w":9274,"v":0.21},{"w":9279,"v":0.42},{"w":9284,"v":0.36},{"w":9288,"v":-0.26},{"w":9291,"v":-0.27},{"w":9300,"v":-0.27}
]},"mark":{"type":"line","color":"black","strokeWidth":4,"clip":true,"strokeJoin":"round"}}
]
}
